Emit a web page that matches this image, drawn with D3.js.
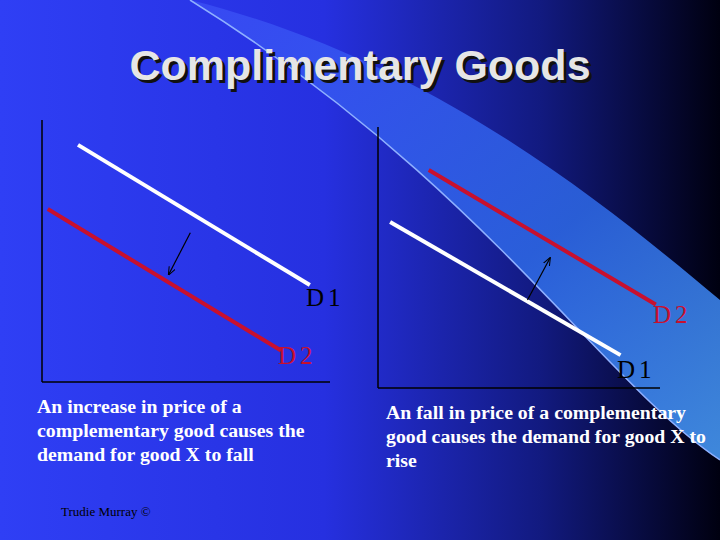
<!DOCTYPE html>
<html><head><meta charset="utf-8">
<script src="https://cdn.jsdelivr.net/npm/d3@7/dist/d3.min.js"></script>
<style>body{margin:0;overflow:hidden}</style></head>
<body><svg id="c" width="720" height="540"></svg>
<script>
const title = "Complimentary Goods";
const leftD1 = [[1.25, 9.05], [9.3, 3.7]];
const leftD2 = [[0.2, 6.6], [8.3, 1.2]];
const leftArrow = [[5.15, 5.7], [4.4, 4.1]];
const rightD2 = [[1.8, 8.35], [9.85, 3.2]];
const rightD1 = [[0.43, 6.36], [8.6, 1.26]];
const rightArrow = [[5.3, 3.37], [6.1, 4.98]];
const leftCaption = ["An increase in price of a", "complementary good causes the", "demand for good X to fall"];
const rightCaption = ["An fall in price of a complementary", "good causes the demand for good X to", "rise"];
const credit = "Trudie Murray ©";

const svg = d3.select("#c");
const defs = svg.append("defs");
const g = defs.append("linearGradient").attr("id","bg").attr("x1","0").attr("y1","0").attr("x2","1").attr("y2","0");
g.append("stop").attr("offset","0").attr("stop-color","#2f3ff5");
g.append("stop").attr("offset","0.45").attr("stop-color","#2630e0");
g.append("stop").attr("offset","0.75").attr("stop-color","#121a80");
g.append("stop").attr("offset","1").attr("stop-color","#000010");
const g2 = defs.append("linearGradient").attr("id","sw").attr("x1","0").attr("y1","0").attr("x2","1").attr("y2","1");
g2.append("stop").attr("offset","0").attr("stop-color","#3a4cf5");
g2.append("stop").attr("offset","0.6").attr("stop-color","#2e6ae8");
g2.append("stop").attr("offset","1").attr("stop-color","#4aa0ff");
defs.append("marker").attr("id","ah").attr("viewBox","0 0 10 10").attr("refX",9).attr("refY",5)
 .attr("markerWidth",7).attr("markerHeight",7).attr("orient","auto")
 .append("path").attr("d","M0,1 L10,5 L0,9").attr("fill","none").attr("stroke","#000").attr("stroke-width",1.2);

svg.append("rect").attr("width",720).attr("height",540).attr("fill","url(#bg)");
svg.append("path").attr("d","M190,0 C430,60 600,200 720,300 L720,460 C600,380 480,180 190,0 Z").attr("fill","url(#sw)").attr("opacity",0.85);
svg.append("path").attr("d","M190,0 C480,180 600,380 720,460").attr("fill","none").attr("stroke","#8fb0ff").attr("stroke-width",1.5);

svg.append("text").attr("x",360).attr("y",80).attr("text-anchor","middle").attr("font-family","Liberation Sans, Arial").attr("font-weight","bold").attr("font-size",43).attr("fill","#111").text(title).attr("transform","translate(3,3)");
svg.append("text").attr("x",360).attr("y",80).attr("text-anchor","middle").attr("font-family","Liberation Sans, Arial").attr("font-weight","bold").attr("font-size",43).attr("fill","#e6e6e6").text(title);

function panel(xr, yr, lines, arrow, labels){
  const x = d3.scaleLinear().domain([0,10]).range(xr);
  const y = d3.scaleLinear().domain([0,10]).range(yr);
  const p = svg.append("g");
  p.append("line").attr("x1",x(0)).attr("x2",x(0)).attr("y1",y(0)).attr("y2",y(10)).attr("stroke","#000").attr("stroke-width",1.5);
  p.append("line").attr("x1",x(0)).attr("x2",x(10)).attr("y1",y(0)).attr("y2",y(0)).attr("stroke","#000").attr("stroke-width",1.5);
  const ln = d3.line().x(d=>x(d[0])).y(d=>y(d[1]));
  lines.forEach(l=>p.append("path").attr("d",ln(l.d)).attr("stroke",l.c).attr("stroke-width",4).attr("fill","none"));
  p.append("path").attr("d",ln(arrow)).attr("stroke","#000").attr("stroke-width",1.2).attr("fill","none").attr("marker-end","url(#ah)");
  labels.forEach(t=>p.append("text").attr("x",t.x).attr("y",t.y).attr("font-family","Liberation Serif, Times New Roman").attr("font-size",25).attr("letter-spacing",4).attr("fill",t.c).text(t.t));
}
panel([42,330],[382,120],[{d:leftD1,c:"#ffffff"},{d:leftD2,c:"#c8102e"}],leftArrow,
 [{x:306,y:306,t:"D1",c:"#000"},{x:278,y:364,t:"D2",c:"#c8102e"}]);
panel([378,660],[388,127],[{d:rightD2,c:"#c8102e"},{d:rightD1,c:"#ffffff"}],rightArrow,
 [{x:653,y:323,t:"D2",c:"#c8102e"},{x:617,y:378,t:"D1",c:"#000"}]);

function cap(lines,x,y){
  const t = svg.append("text").attr("font-family","Liberation Serif, Times New Roman").attr("font-weight","bold").attr("font-size",19.8).attr("fill","#fff");
  lines.forEach((s,i)=>t.append("tspan").attr("x",x).attr("y",y+i*24).text(s));
}
cap(leftCaption,37,413);
cap(rightCaption,386,419);
svg.append("text").attr("x",61).attr("y",516).attr("font-family","Liberation Serif, Times New Roman").attr("font-size",13).attr("fill","#000").text(credit);
</script></body></html>
